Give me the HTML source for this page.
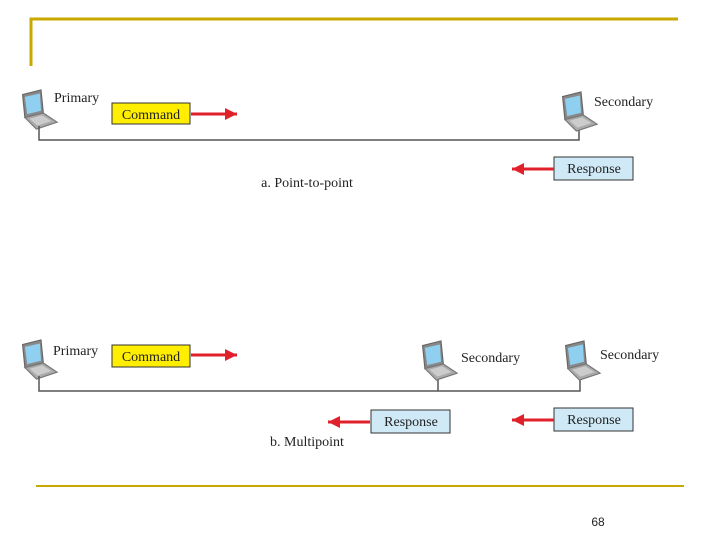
<!DOCTYPE html>
<html><head><style>body{margin:0;background:#fff}svg{display:block}</style></head><body>
<svg width="720" height="540" xmlns="http://www.w3.org/2000/svg">
<defs>
<g id="lap">
<polygon points="4,4 20,0 22,20 6,24" fill="#888" stroke="#666"/>
<polygon points="6,6 19,3 20,18 8,21" fill="#8fd0f0"/>
<polygon points="6,24 22,20 34,28 16,34" fill="#aaa" stroke="#777"/>
<polygon points="10,25 21,22 29,27 17,31" fill="#ccc"/>
</g>
<g id="ar"><line x1="0" y1="0" x2="-46" y2="0" stroke="#e0202a" stroke-width="3"/><polygon points="0,0 -12,-6 -12,6" fill="#e0202a"/></g>
<g id="arL"><line x1="0" y1="0" x2="-42" y2="0" stroke="#e0202a" stroke-width="3"/><polygon points="0,0 -12,-6 -12,6" fill="#e0202a"/></g>
</defs>
<g fill="none" stroke="#c9a800">
<polyline points="31,66 31,19 678,19" stroke-width="3"/>
<line x1="36" y1="486" x2="684" y2="486" stroke-width="2"/>
</g>
<g font-family="Liberation Serif, serif" font-size="14" fill="#222">
<use href="#lap" transform="translate(18,90) scale(1.15)"/>
<text x="54" y="102">Primary</text>
<rect x="112" y="103" width="78" height="21" fill="#ffee00" stroke="#333"/>
<text x="151" y="119" text-anchor="middle">Command</text>
<use href="#ar" x="237" y="114"/>
<polyline points="39,126 39,140 579,140 579,128" fill="none" stroke="#555" stroke-width="1.5"/>
<use href="#lap" transform="translate(558,92) scale(1.15)"/>
<text x="594" y="106">Secondary</text>
<rect x="554" y="157" width="79" height="23" fill="#cfe9f6" stroke="#333"/>
<text x="594" y="173" text-anchor="middle">Response</text>
<use href="#arL" x="512" y="169" transform="rotate(180 512 169)"/>
<text x="307" y="187" text-anchor="middle">a. Point-to-point</text>
<use href="#lap" transform="translate(18,340) scale(1.15)"/>
<text x="53" y="355">Primary</text>
<rect x="112" y="345" width="78" height="22" fill="#ffee00" stroke="#333"/>
<text x="151" y="361" text-anchor="middle">Command</text>
<use href="#ar" x="237" y="355"/>
<polyline points="39,376 39,391 580,391 580,378" fill="none" stroke="#555" stroke-width="1.5"/>
<line x1="438" y1="378" x2="438" y2="391" stroke="#555" stroke-width="1.5"/>
<use href="#lap" transform="translate(418,341) scale(1.15)"/>
<text x="461" y="362">Secondary</text>
<use href="#lap" transform="translate(561,341) scale(1.15)"/>
<text x="600" y="359">Secondary</text>
<rect x="371" y="410" width="79" height="23" fill="#cfe9f6" stroke="#333"/>
<text x="411" y="426" text-anchor="middle">Response</text>
<use href="#arL" x="328" y="422" transform="rotate(180 328 422)"/>
<rect x="554" y="408" width="79" height="23" fill="#cfe9f6" stroke="#333"/>
<text x="594" y="424" text-anchor="middle">Response</text>
<use href="#arL" x="512" y="420" transform="rotate(180 512 420)"/>
<text x="307" y="446" text-anchor="middle">b. Multipoint</text>
</g>
<text x="598" y="526" font-family="Liberation Sans, sans-serif" font-size="12" fill="#222" text-anchor="middle">68</text>
</svg>
</body></html>
